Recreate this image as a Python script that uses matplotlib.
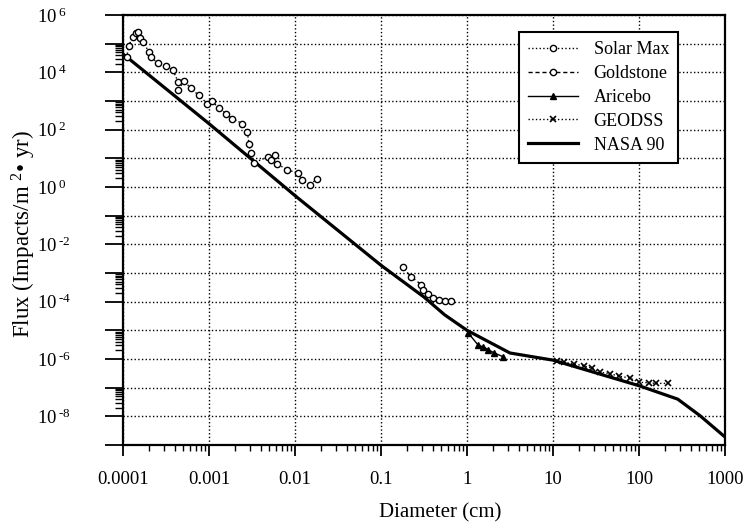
import numpy as np
import matplotlib
matplotlib.use("Agg")
import matplotlib.pyplot as plt
from matplotlib.ticker import FixedLocator, NullFormatter

plt.rcParams['font.family'] = ['Liberation Serif', 'DejaVu Serif']
plt.rcParams['mathtext.fontset'] = 'custom'
plt.rcParams['mathtext.rm'] = 'Liberation Serif'

# ---------------- data (diameter in cm, flux in impacts/m^2/yr) ----------------
solar_max_d = [1.10e-4, 1.17e-4, 1.29e-4, 1.40e-4, 1.51e-4, 1.58e-4, 1.70e-4, 2.00e-4,
               2.14e-4, 2.57e-4, 3.16e-4, 3.80e-4, 4.37e-4, 4.37e-4, 5.13e-4, 6.17e-4,
               7.59e-4, 9.55e-4, 1.07e-3, 1.29e-3, 1.58e-3, 1.86e-3, 2.45e-3, 2.79e-3,
               2.92e-3, 3.05e-3, 3.31e-3, 4.79e-3, 5.25e-3, 5.89e-3, 6.17e-3, 8.13e-3,
               1.08e-2, 1.22e-2, 1.51e-2, 1.78e-2]
solar_max_f = [3.31e4, 8.32e4, 1.74e5, 2.40e5, 2.63e5, 1.55e5, 1.17e5, 5.25e4,
               3.31e4, 2.04e4, 1.66e4, 1.20e4, 4.68e3, 2.40e3, 5.01e3, 2.75e3,
               1.58e3, 813, 1000, 589, 363, 245, 162, 83.2,
               30.9, 15.5, 6.92, 11.2, 9.02, 12.6, 6.46, 3.98,
               3.09, 1.70, 1.15, 1.95]

goldstone_d = [0.178, 0.224, 0.295, 0.309, 0.355, 0.403, 0.468, 0.55, 0.646]
goldstone_f = [1.58e-3, 7.41e-4, 3.89e-4, 2.63e-4, 1.78e-4, 1.38e-4, 1.17e-4, 1.07e-4, 1.07e-4]

aricebo_d = [1.04, 1.35, 1.55, 1.76, 2.04, 2.63]
aricebo_f = [7.94e-6, 3.02e-6, 2.63e-6, 2.14e-6, 1.66e-6, 1.20e-6]

geodss_d = [11.0, 13.5, 17.6, 22.9, 28.2, 35.5, 45.7, 58.9, 77.6, 100, 129, 158, 219]
geodss_f = [8.51e-7, 7.59e-7, 6.76e-7, 5.75e-7, 4.79e-7, 3.47e-7, 3.09e-7, 2.51e-7,
            2.19e-7, 1.55e-7, 1.48e-7, 1.41e-7, 1.41e-7]

nasa90_d = [1e-4, 1e-3, 1e-2, 0.1, 0.316, 0.55, 1.0, 3.16, 10, 100, 282, 513, 1000]
nasa90_f = [4.37e4, 162, 0.50, 1.86e-3, 1.45e-4, 3.47e-5, 1.0e-5, 1.62e-6, 9.12e-7,
            1.17e-7, 3.98e-8, 1.05e-8, 1.9e-9]

x_ticks = [1e-4, 1e-3, 1e-2, 1e-1, 1, 10, 100, 1000]
x_tick_labels = ["0.0001", "0.001", "0.01", "0.1", "1", "10", "100", "1000"]
y_exps = list(range(-9, 7))
y_label_exps = [-8, -6, -4, -2, 0, 2, 4, 6]


def ylab(e):
    if e not in y_label_exps:
        return ''
    s = str(e).replace('-', '\u2010')
    return r'$\mathregular{10^{\,%s}}$' % s


# ---------------- figure ----------------
fig = plt.figure(figsize=(7.45, 5.27), dpi=100)
ax = fig.add_axes([123/745, 1 - 445/527, 602/745, 430/527])
ax.set_xscale('log')
ax.set_yscale('log')
ax.set_xlim(1e-4, 1e3)
ax.set_ylim(1e-9, 1e6)

ax.plot(solar_max_d, solar_max_f, linestyle=':', color='black', lw=1.0, marker='o',
        ms=4.5, mfc='white', mec='black', mew=1.0, label='Solar Max', zorder=4)
ax.plot(goldstone_d, goldstone_f, linestyle='--', dashes=(3, 2), color='black', lw=1.0,
        marker='o', ms=4.5, mfc='white', mec='black', mew=1.0, label='Goldstone', zorder=4)
ax.plot(aricebo_d, aricebo_f, linestyle='-', color='black', lw=1.0, marker='^',
        ms=4.5, mfc='black', mec='black', label='Aricebo', zorder=4)
ax.plot(geodss_d, geodss_f, linestyle=':', color='black', lw=1.0, marker='x',
        ms=4.5, mec='black', mew=1.2, label='GEODSS', zorder=4)
ax.plot(nasa90_d, nasa90_f, linestyle='-', color='black', lw=2.3, label='NASA 90', zorder=3)

# x axis ticks
ax.set_xticks(x_ticks)
ax.set_xticklabels(x_tick_labels)
x_minor = [k * 10.0**n for n in range(-4, 3) for k in range(2, 10)]
ax.xaxis.set_minor_locator(FixedLocator(x_minor))
ax.xaxis.set_minor_formatter(NullFormatter())

# y axis ticks
y_major = [10.0**e for e in y_exps]
ax.set_yticks(y_major)
ax.set_yticklabels([ylab(e) for e in y_exps])
y_minor = [k * 10.0**n for n in range(-8, 5, 2) for k in range(2, 10)]
ax.yaxis.set_minor_locator(FixedLocator(y_minor))
ax.yaxis.set_minor_formatter(NullFormatter())

ax.tick_params(axis='x', which='major', direction='out', length=8, width=1.3,
               labelsize=13.5, pad=11)
ax.tick_params(axis='x', which='minor', direction='out', length=4, width=1.0)
ax.tick_params(axis='y', which='major', direction='out', length=13, width=1.3,
               labelsize=13.5, pad=49)
ax.tick_params(axis='y', which='minor', direction='out', length=6, width=1.0)
for t in ax.get_yticklabels():
    t.set_horizontalalignment('left')

ax.grid(True, which='major', linestyle=':', color='black', lw=1.0)
for s in ax.spines.values():
    s.set_linewidth(1.6)

ax.set_xlabel('Diameter (cm)', fontsize=15)
ax.xaxis.set_label_coords(0.527, -0.135)
ax.set_ylabel(r'Flux (Impacts/m $\mathregular{^{2}}$• yr)', fontsize=16.5)
ax.yaxis.set_label_coords(-0.142, 0.49)

leg = ax.legend(loc='upper right', bbox_to_anchor=(0.922, 0.960), fontsize=13,
                frameon=True, fancybox=False, framealpha=1, edgecolor='black',
                handlelength=2.8, handletextpad=0.85, labelspacing=0.38,
                borderpad=0.5, borderaxespad=0, numpoints=1)
leg.get_frame().set_linewidth(1.5)

fig.savefig('out.png', dpi=100)
